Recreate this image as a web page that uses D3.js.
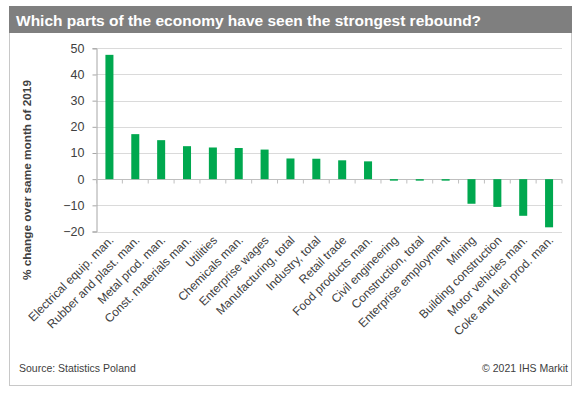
<!DOCTYPE html>
<html>
<head>
<meta charset="utf-8">
<script src="https://cdn.jsdelivr.net/npm/d3@7"></script>
<style>
  body { margin: 0; background: #fff; }
  svg { display: block; font-family: "Liberation Sans", Arial, sans-serif; }
</style>
</head>
<body>
<script>
// -- chart data --
var categories = [
  "Electrical equip. man.", "Rubber and plast. man.", "Metal prod. man.",
  "Const. materials man.", "Utilities", "Chemicals man.", "Enterprise wages",
  "Manufacturing, total", "Industry, total", "Retail trade", "Food products man.",
  "Civil engineering", "Construction, total", "Enterprise employment", "Mining",
  "Building construction", "Motor vehicles man.", "Coke and fuel prod. man."
];
var values = [47.5, 17.2, 14.9, 12.6, 12.1, 11.9, 11.3, 7.9, 7.8, 7.2, 6.8,
  -0.4, -0.4, -0.5, -9.4, -10.6, -14.0, -18.4];
var yTicks = [-20, -10, 0, 10, 20, 30, 40, 50];

var title = "Which parts of the economy have seen the strongest rebound?";
var yTitle = "% change over same month of 2019";
var source = "Source: Statistics Poland";
var credit = "\u00a9 2021 IHS Markit";

var W = 580, H = 394;
var svg = d3.select("body").append("svg").attr("width", W).attr("height", H);

// frame + title bar
svg.append("rect").attr("x", 9.5).attr("y", 6.5).attr("width", 562).attr("height", 379)
  .attr("fill", "#fff").attr("stroke", "#c8c8c8");
svg.append("rect").attr("x", 9).attr("y", 6).attr("width", 563).attr("height", 27)
  .attr("fill", "#7f7f7f");
svg.append("text").attr("x", 16).attr("y", 25.5)
  .attr("fill", "#fff").attr("font-weight", "bold").attr("font-size", 15.5)
  .text(title);

// scales
var x = d3.scaleBand().domain(categories).range([96.5, 562]).paddingInner(0.69).paddingOuter(0.345);
var y = d3.scaleLinear().domain([-20, 50]).range([231.5, 48.3]);

// gridlines
svg.append("g").selectAll("line").data(yTicks).enter().append("line")
  .attr("x1", 96.5).attr("x2", 562)
  .attr("y1", function(d){ return Math.round(y(d)) + 0.5; })
  .attr("y2", function(d){ return Math.round(y(d)) + 0.5; })
  .attr("stroke", "#dadada");

// y axis
var yAxis = svg.append("g").attr("transform", "translate(96.5,0)")
  .call(d3.axisLeft(y).tickValues(yTicks).tickSize(4).tickPadding(8));
yAxis.selectAll("line, path").attr("stroke", "#a6a6a6");
yAxis.selectAll("text").attr("font-size", 12.5).attr("fill", "#404040")
  .attr("font-family", "Liberation Sans, Arial, sans-serif");

// x axis at zero with ticks between categories
var step = x.step();
var x0 = svg.append("g");
x0.append("line").attr("x1", 96.5).attr("x2", 562)
  .attr("y1", Math.round(y(0)) + 0.5).attr("y2", Math.round(y(0)) + 0.5)
  .attr("stroke", "#bfbfbf");
x0.selectAll("line.tk").data(d3.range(categories.length + 1)).enter().append("line")
  .attr("class", "tk")
  .attr("x1", function(i){ return 96.5 + i * step; })
  .attr("x2", function(i){ return 96.5 + i * step; })
  .attr("y1", Math.round(y(0)) + 0.5).attr("y2", Math.round(y(0)) + 4.5)
  .attr("stroke", "#bfbfbf");

// bars
svg.append("g").selectAll("rect").data(values).enter().append("rect")
  .attr("x", function(d, i){ return x(categories[i]); })
  .attr("width", x.bandwidth())
  .attr("y", function(d){ return y(Math.max(0, d)); })
  .attr("height", function(d){ return Math.max(1.5, Math.abs(y(d) - y(0))); })
  .attr("fill", "#00a84f");

// category labels
svg.append("g").selectAll("text").data(categories).enter().append("text")
  .attr("transform", function(d){
    return "translate(" + (x(d) + x.bandwidth() / 2 + 5) + ",241) rotate(-45)";
  })
  .attr("text-anchor", "end").attr("font-size", 12).attr("fill", "#404040")
  .text(function(d){ return d; });

// y axis title
svg.append("text").attr("transform", "translate(31,180) rotate(-90)")
  .attr("text-anchor", "middle").attr("font-weight", "bold").attr("font-size", 11.8)
  .attr("fill", "#404040").text(yTitle);

// footer
svg.append("text").attr("x", 19).attr("y", 372).attr("font-size", 10.5)
  .attr("fill", "#404040").text(source);
svg.append("text").attr("x", 568).attr("y", 372).attr("text-anchor", "end")
  .attr("font-size", 10.5).attr("fill", "#404040").text(credit);
</script>
</body>
</html>
